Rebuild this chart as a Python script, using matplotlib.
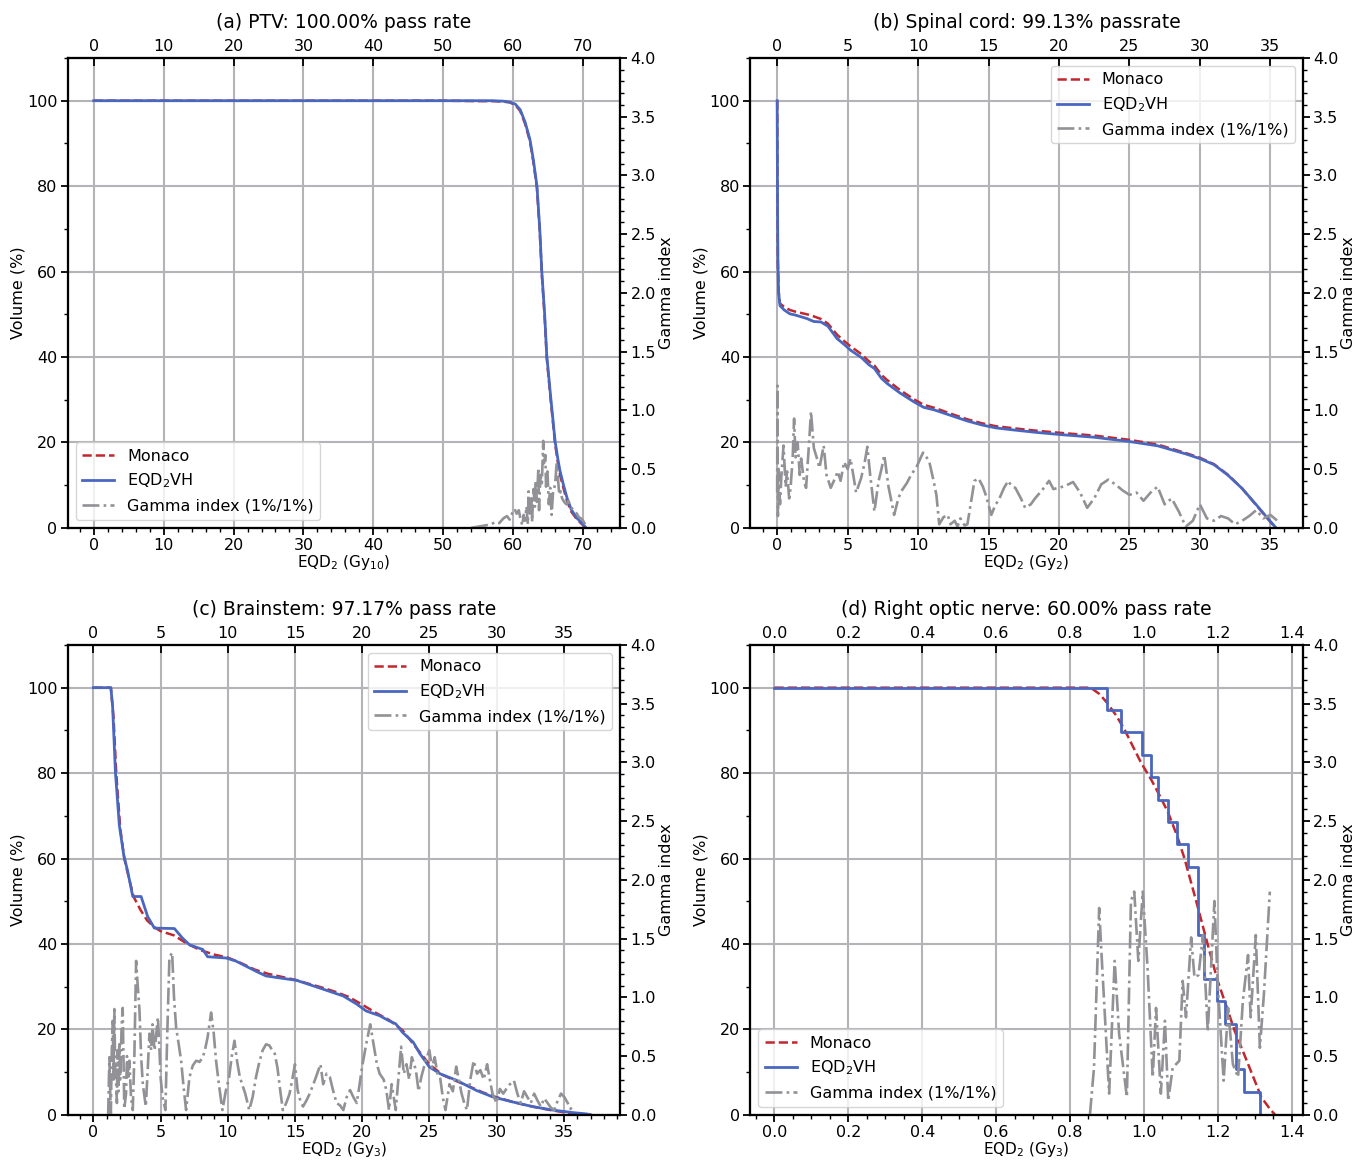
import matplotlib
matplotlib.use("Agg")
import matplotlib.pyplot as plt
from matplotlib.ticker import MultipleLocator, FormatStrFormatter

# (a) PTV
a_x = [0, 50, 55, 57, 58.5, 59.5, 60.3, 61.0, 61.7, 62.4, 62.9, 63.4, 63.8, 64.1,
       64.5, 64.8, 65.4, 66.0, 66.4, 66.7, 67.2, 67.7, 68.3, 69.1, 70.0, 70.4]
a_eqd = [100, 100, 100, 100, 99.9, 99.7, 99.2, 97.9, 95, 90.9, 86, 80, 70, 59.8,
         50, 40.4, 30, 20.2, 16, 13.3, 10, 7, 4.3, 2.3, 0.8, 0]
a_mon = [100, 100, 99.9, 99.9, 99.8, 99.6, 99.0, 97.6, 94.6, 90.5, 85.5, 79.5, 69.5, 59.2,
         49.4, 39.8, 29.4, 19.6, 15.2, 12.4, 9.2, 6.3, 3.8, 2.0, 0.6, 0]
a_gx = [54.0, 55.0, 56.0, 56.8, 57.5, 58.0, 58.6, 59.1, 59.5, 59.9, 60.2, 60.5, 60.8,
        61.0, 61.3, 61.5, 61.7, 61.9, 62.1, 62.2, 62.4, 62.6, 62.7, 62.9, 63.1, 63.2,
        63.4, 63.6, 63.7, 63.9, 64.1, 64.3, 64.4, 64.6, 64.7, 64.9, 65.1, 65.3, 65.5,
        65.7, 66.0, 66.2, 66.4, 66.6, 66.8, 67.0, 67.3, 67.6, 67.9, 68.2, 68.5, 68.8,
        69.1, 69.4, 69.7, 70.0, 70.3]
a_gam = [0.0, 0.01, 0.02, 0.03, 0.05, 0.04, 0.08, 0.1, 0.07, 0.13, 0.16, 0.12, 0.15,
         0.09, 0.02, 0.11, 0.06, 0.18, 0.03, 0.31, 0.12, 0.25, 0.05, 0.33, 0.18, 0.40,
         0.22, 0.51, 0.15, 0.45, 0.38, 0.74, 0.55, 0.62, 0.35, 0.48, 0.20, 0.34, 0.11,
         0.30, 0.37, 0.54, 0.42, 0.28, 0.31, 0.25, 0.22, 0.20, 0.23, 0.18, 0.16, 0.14,
         0.12, 0.09, 0.08, 0.06, 0.03]

# (b) Spinal cord
b_x = [0, 0.02, 0.05, 0.1, 0.2, 0.5, 0.9, 1.3, 2.1, 2.6, 3.1, 3.6, 4.25, 4.8, 5.2,
       6.0, 6.5, 6.9, 7.4, 7.8, 8.7, 9.7, 10.4, 11.15, 12.6, 13.5, 14.5, 15.5, 16.8,
       18.5, 20.2, 22.5, 25.0, 27.0, 29.0, 30.0, 31.0, 32.0, 33.0, 34.0, 35.0, 35.4]
b_eqd = [100, 80, 62, 55, 52, 51, 50.1, 49.8, 49.0, 48.3, 48.2, 47.2, 44.3, 42.8, 41.6,
         39.8, 38.2, 37.3, 35.0, 33.8, 31.6, 29.5, 28.2, 27.6, 26.0, 25.0, 24.1, 23.4,
         22.9, 22.3, 21.8, 21.2, 20.2, 19.2, 17.3, 16.2, 14.8, 12.3, 9.2, 5.4, 1.5, 0]
b_mon = [100, 80, 62, 55.5, 52.5, 51.7, 51.0, 50.6, 50.0, 49.5, 48.9, 47.8, 45.2, 43.6,
         42.5, 40.6, 39.0, 38.0, 35.8, 34.6, 32.3, 30.1, 28.8, 28.1, 26.4, 25.4, 24.5,
         23.8, 23.3, 22.7, 22.2, 21.6, 20.6, 19.5, 17.5, 16.4, 14.9, 12.4, 9.2, 5.3, 1.4, 0]
b_gx = [0, 0.02, 0.05, 0.1, 0.2, 0.3, 0.45, 0.6, 0.7, 0.85, 0.95, 1.1, 1.2, 1.3, 1.45,
        1.6, 1.7, 1.9, 2.05, 2.25, 2.4, 2.6, 2.8, 3.0, 3.3, 3.5, 3.8, 4.1, 4.3, 4.5,
        4.75, 5.0, 5.2, 5.4, 5.6, 5.95, 6.2, 6.4, 6.6, 6.9, 7.2, 7.4, 7.6, 7.9, 8.3,
        8.6, 8.8, 9.2, 9.5, 9.9, 10.35, 10.6, 10.8, 11.1, 11.3, 11.5, 11.8, 12.1, 12.3,
        12.6, 12.8, 13.0, 13.3, 13.5, 13.8, 14.0, 14.3, 14.6, 14.8, 15.2, 15.5, 15.7,
        16.1, 16.4, 16.6, 16.9, 17.3, 17.6, 18.0, 18.3, 18.8, 19.3, 19.6, 20.0, 20.5,
        21.0, 21.5, 22.0, 22.5, 23.0, 23.5, 24.0, 24.5, 25.0, 25.5, 26.0, 26.5, 27.0,
        27.5, 28.0, 28.5, 29.0, 29.5, 30.0, 30.5, 31.0, 31.5, 32.0, 32.5, 33.0, 33.5,
        34.0, 34.5, 35.0, 35.5]
b_gam = [0.3, 1.21, 0.1, 0.5, 0.2, 0.45, 0.7, 0.35, 0.48, 0.25, 0.34, 0.6, 0.93, 0.6,
         0.73, 0.45, 0.59, 0.4, 0.34, 0.7, 0.99, 0.68, 0.6, 0.51, 0.7, 0.45, 0.34, 0.42,
         0.48, 0.4, 0.56, 0.5, 0.59, 0.45, 0.3, 0.42, 0.55, 0.69, 0.45, 0.14, 0.4, 0.5,
         0.62, 0.35, 0.11, 0.25, 0.31, 0.38, 0.45, 0.52, 0.64, 0.6, 0.56, 0.4, 0.28,
         0.03, 0.09, 0.11, 0.03, 0.06, 0.01, 0.08, 0.02, 0.03, 0.25, 0.4, 0.42, 0.35,
         0.28, 0.11, 0.2, 0.23, 0.34, 0.40, 0.36, 0.34, 0.25, 0.17, 0.2, 0.25, 0.32,
         0.40, 0.33, 0.34, 0.36, 0.39, 0.3, 0.17, 0.25, 0.37, 0.41, 0.37, 0.32, 0.28,
         0.3, 0.23, 0.3, 0.35, 0.2, 0.25, 0.14, 0.01, 0.06, 0.2, 0.08, 0.06, 0.1, 0.08,
         0.03, 0.06, 0.1, 0.15, 0.08, 0.11, 0.06]

# (c) Brainstem
c_x = [0, 1.3, 1.43, 1.64, 1.93, 2.26, 2.56, 2.93, 3.55, 4.04, 4.54, 6.03, 6.62, 7.15,
       8.14, 8.5, 9.87, 10.6, 12.1, 12.85, 14.6, 15.1, 17.1, 18.6, 19.6, 20.3, 21.3,
       22.0, 22.5, 23.0, 23.8, 24.3, 25.0, 25.8, 27.0, 28.5, 29.7, 31.2, 32.7, 34.2,
       35.7, 36.7, 37.0]
c_eqd = [100, 100, 95.7, 80.2, 67.8, 60.8, 56.9, 51.1, 51.1, 46.4, 43.7, 43.6, 41.4,
         39.8, 38.7, 37.0, 36.7, 36.0, 33.6, 32.5, 31.7, 31.5, 29.4, 27.8, 25.9, 24.3,
         23.2, 22.0, 21.3, 19.3, 17.0, 14.3, 11.2, 9.6, 8.1, 5.7, 4.2, 3.0, 1.9, 1.1,
         0.5, 0.2, 0]
c_mx = [0, 1.3, 1.5, 1.7, 2.0, 2.3, 2.6, 3.0, 3.5, 4.0, 4.5, 5.0, 6.0, 7.0, 8.0, 9.0,
        10.0, 11.0, 12.0, 13.0, 14.0, 15.0, 16.0, 17.0, 18.0, 19.0, 20.0, 21.0, 22.0,
        23.0, 24.0, 25.0, 26.0, 27.0, 28.0, 29.0, 30.0, 31.0, 32.0, 33.0, 34.0, 35.0,
        36.0, 37.0]
c_mon = [100, 100, 93, 80, 67, 60, 56, 51, 48, 45.5, 44, 43, 42, 40, 38.5, 37.5, 36.8,
         35.5, 34, 33, 32.3, 31.6, 30.7, 29.8, 28.8, 27.6, 25.8, 23.9, 22.2, 19.8,
         15.8, 11.8, 9.3, 7.9, 6.6, 5.2, 4.1, 3.2, 2.4, 1.7, 1.1, 0.6, 0.25, 0]
c_gx = [1.1, 1.19, 1.25, 1.3, 1.36, 1.44, 1.5, 1.56, 1.62, 1.68, 1.75, 1.8, 1.87, 1.93,
        2.0, 2.1, 2.18, 2.25, 2.3, 2.43, 2.5, 2.6, 2.68, 2.8, 2.93, 3.05, 3.18, 3.3,
        3.43, 3.55, 3.68, 3.9, 4.05, 4.17, 4.3, 4.4, 4.55, 4.66, 4.8, 4.9, 5.0, 5.15,
        5.36, 5.5, 5.66, 5.86, 6.0, 6.16, 6.35, 6.53, 6.7, 6.9, 7.15, 7.4, 7.65, 7.9,
        8.14, 8.3, 8.5, 8.76, 8.95, 9.13, 9.35, 9.6, 9.85, 10.1, 10.3, 10.5, 10.7, 10.9,
        11.1, 11.3, 11.6, 11.85, 12.1, 12.35, 12.6, 12.85, 13.1, 13.3, 13.5, 13.7, 13.9,
        14.1, 14.35, 14.6, 14.8, 15.0, 15.2, 15.4, 15.6, 15.85, 16.1, 16.5, 16.9, 17.1,
        17.35, 17.6, 17.85, 18.1, 18.35, 18.6, 18.85, 19.1, 19.35, 19.6, 19.8, 20.0,
        20.3, 20.6, 20.85, 21.1, 21.3, 21.6, 21.8, 22.0, 22.2, 22.5, 22.9, 23.1, 23.3,
        23.5, 23.7, 24.0, 24.2, 24.4, 24.7, 25.0, 25.2, 25.4, 25.6, 25.8, 26.0, 26.2,
        26.5, 26.75, 27.0, 27.2, 27.4, 27.6, 27.8, 28.05, 28.3, 28.55, 28.8, 29.05, 29.3,
        29.5, 29.7, 30.0, 30.25, 30.5, 30.9, 31.3, 31.55, 31.8, 32.05, 32.3, 32.55, 32.8,
        33.05, 33.3, 33.55, 33.8, 34.05, 34.3, 34.55, 34.8, 35.05, 35.3, 35.5, 35.7]
c_gam = [0.0, 0.49, 0.2, 0.0, 0.5, 0.8, 0.3, 0.9, 0.4, 0.32, 0.1, 0.55, 0.2, 0.6, 0.3,
         0.75, 0.91, 0.4, 0.05, 0.18, 0.5, 0.3, 0.46, 0.15, 0.04, 0.5, 1.31, 1.1, 0.89,
         0.5, 0.26, 0.07, 0.4, 0.69, 0.55, 0.77, 0.55, 0.66, 0.83, 0.6, 0.32, 0.15, 0.04,
         0.7, 1.34, 1.38, 1.0, 0.74, 0.6, 0.46, 0.25, 0.04, 0.32, 0.42, 0.46, 0.45, 0.49,
         0.55, 0.66, 0.87, 0.7, 0.46, 0.25, 0.04, 0.2, 0.32, 0.5, 0.63, 0.45, 0.32, 0.25,
         0.18, 0.04, 0.15, 0.32, 0.45, 0.55, 0.6, 0.59, 0.55, 0.52, 0.4, 0.21, 0.04, 0.1,
         0.18, 0.3, 0.43, 0.21, 0.12, 0.07, 0.12, 0.18, 0.3, 0.43, 0.26, 0.35, 0.32, 0.2,
         0.1, 0.08, 0.04, 0.15, 0.21, 0.15, 0.1, 0.25, 0.41, 0.6, 0.77, 0.6, 0.43, 0.35,
         0.3, 0.21, 0.04, 0.26, 0.04, 0.58, 0.35, 0.43, 0.3, 0.49, 0.38, 0.2, 0.32, 0.45,
         0.55, 0.4, 0.49, 0.35, 0.32, 0.15, 0.04, 0.26, 0.2, 0.41, 0.3, 0.18, 0.1, 0.04,
         0.3, 0.46, 0.35, 0.38, 0.3, 0.43, 0.3, 0.18, 0.1, 0.22, 0.18, 0.25, 0.29, 0.18,
         0.1, 0.2, 0.15, 0.1, 0.18, 0.12, 0.07, 0.14, 0.1, 0.06, 0.04, 0.12, 0.18, 0.15,
         0.1, 0.05, 0.07]

# (d) Right optic nerve
d_x = [0, 0.90, 0.938, 0.995, 1.019, 1.039, 1.065, 1.09, 1.119, 1.147, 1.162, 1.198,
       1.219, 1.249, 1.271, 1.314, 1.318]
d_eqd = [100, 94.8, 89.7, 84.2, 79.0, 73.8, 68.6, 63.3, 57.9, 42.2, 31.7, 26.7, 21.2,
         10.8, 5.3, 0, 0]
d_mx = [0, 0.856, 0.88, 0.90, 0.925, 0.947, 0.97, 0.992, 1.019, 1.04, 1.065, 1.09, 1.11,
        1.142, 1.173, 1.2, 1.225, 1.246, 1.282, 1.318, 1.34, 1.355]
d_mon = [100, 100, 98.5, 96.5, 93.5, 90.3, 86.3, 82.5, 78.6, 75.2, 70.9, 65.3, 60, 49.9,
         39.8, 31.3, 25, 19.6, 11.9, 4.1, 1.5, 0]
d_gx = [0.854, 0.865, 0.879, 0.885, 0.906, 0.921, 0.933, 0.954, 0.965, 0.974, 0.985,
        0.997, 1.01, 1.024, 1.033, 1.046, 1.057, 1.066, 1.078, 1.096, 1.105, 1.114, 1.128,
        1.137, 1.148, 1.16, 1.173, 1.191, 1.2, 1.216, 1.228, 1.241, 1.255, 1.268, 1.282,
        1.289, 1.303, 1.314, 1.325, 1.341]
d_gam = [0.0, 0.4, 1.76, 1.39, 0.18, 1.31, 0.69, 0.15, 1.82, 1.9, 1.31, 1.9, 1.25, 0.32,
         0.91, 0.18, 0.8, 0.12, 0.4, 0.46, 1.14, 0.83, 1.51, 1.17, 1.19, 1.53, 0.71, 1.82,
         1.11, 0.29, 0.91, 0.43, 0.32, 0.97, 1.36, 0.83, 1.53, 0.57, 1.03, 1.9]

RED = '#c1272d'
BLUE = '#4a67c0'
GRAY = '#929296'
FS = 11.5


def draw_panel(rect, title, xlabel, xlim, major, minor, eqd, mon, gam, loc, steps=False):
    ax = fig.add_axes(rect)
    top = ax.twiny()
    right = ax.twinx()

    l1, = ax.plot(mon[0], mon[1], '--', color=RED, lw=1.8, label='Monaco')
    if steps:
        l2, = ax.plot(eqd[0], eqd[1], '-', color=BLUE, lw=2, drawstyle='steps-post',
                      label='EQD$_2$VH')
    else:
        l2, = ax.plot(eqd[0], eqd[1], '-', color=BLUE, lw=2, label='EQD$_2$VH')
    l3, = right.plot(gam[0], gam[1], '-.', color=GRAY, lw=1.9,
                     label='Gamma index (1%/1%)')

    ax.set_xlim(*xlim)
    ax.set_ylim(0, 110)
    top.set_xlim(*xlim)
    right.set_ylim(0, 4.0)

    ax.xaxis.set_major_locator(MultipleLocator(major))
    ax.xaxis.set_minor_locator(MultipleLocator(minor))
    top.xaxis.set_major_locator(MultipleLocator(major))
    ax.yaxis.set_major_locator(MultipleLocator(20))
    ax.yaxis.set_minor_locator(MultipleLocator(10))
    right.yaxis.set_major_locator(MultipleLocator(0.5))
    right.yaxis.set_minor_locator(MultipleLocator(0.1))
    right.yaxis.set_major_formatter(FormatStrFormatter('%.1f'))
    if major < 1:
        ax.xaxis.set_major_formatter(FormatStrFormatter('%.1f'))
        top.xaxis.set_major_formatter(FormatStrFormatter('%.1f'))

    ax.grid(True, which='major', color='#b4b4b8', lw=1.5)
    ax.set_axisbelow(True)

    ax.tick_params(which='major', direction='out', length=5, width=1.3,
                   labelsize=FS, pad=2.5)
    ax.tick_params(which='minor', direction='out', length=3, width=1.0)
    top.tick_params(which='major', direction='in', length=6, width=1.3,
                    labelsize=FS, pad=3)
    right.tick_params(which='major', direction='out', length=5, width=1.3,
                      labelsize=FS, pad=2.5)
    right.tick_params(which='minor', direction='out', length=3, width=1.0)
    for a in (ax, top, right):
        for s in a.spines.values():
            s.set_linewidth(1.5)

    ax.set_xlabel(xlabel, fontsize=11, labelpad=0)
    ax.set_ylabel('Volume (%)', fontsize=FS, labelpad=1)
    right.set_ylabel('Gamma index', fontsize=FS, labelpad=2)
    ax.set_title(title, fontsize=13.5, pad=8)

    right.legend(handles=[l1, l2, l3], loc=loc, fontsize=FS)


if __name__ == "__main__":
    fig = plt.figure(figsize=(13.57, 11.6), dpi=100)
    L1, L2, W = 0.050, 0.553, 0.407
    B1, B2, H = 0.545, 0.039, 0.405

    draw_panel([L1, B1, W, H], '(a) PTV: 100.00% pass rate', 'EQD$_2$ (Gy$_{10}$)',
               (-3.7, 75.3), 10, 2, (a_x, a_eqd), (a_x, a_mon), (a_gx, a_gam),
               'lower left')
    draw_panel([L2, B1, W, H], '(b) Spinal cord: 99.13% passrate', 'EQD$_2$ (Gy$_2$)',
               (-1.9, 37.3), 5, 1, (b_x, b_eqd), (b_x, b_mon), (b_gx, b_gam),
               'upper right')
    draw_panel([L1, B2, W, H], '(c) Brainstem: 97.17% pass rate', 'EQD$_2$ (Gy$_3$)',
               (-1.9, 39.2), 5, 1, (c_x, c_eqd), (c_mx, c_mon), (c_gx, c_gam),
               'upper right')
    draw_panel([L2, B2, W, H], '(d) Right optic nerve: 60.00% pass rate',
               'EQD$_2$ (Gy$_3$)', (-0.065, 1.43), 0.2, 0.05, (d_x, d_eqd),
               (d_mx, d_mon), (d_gx, d_gam), 'lower left', steps=True)

    fig.savefig('out.png', dpi=100)
